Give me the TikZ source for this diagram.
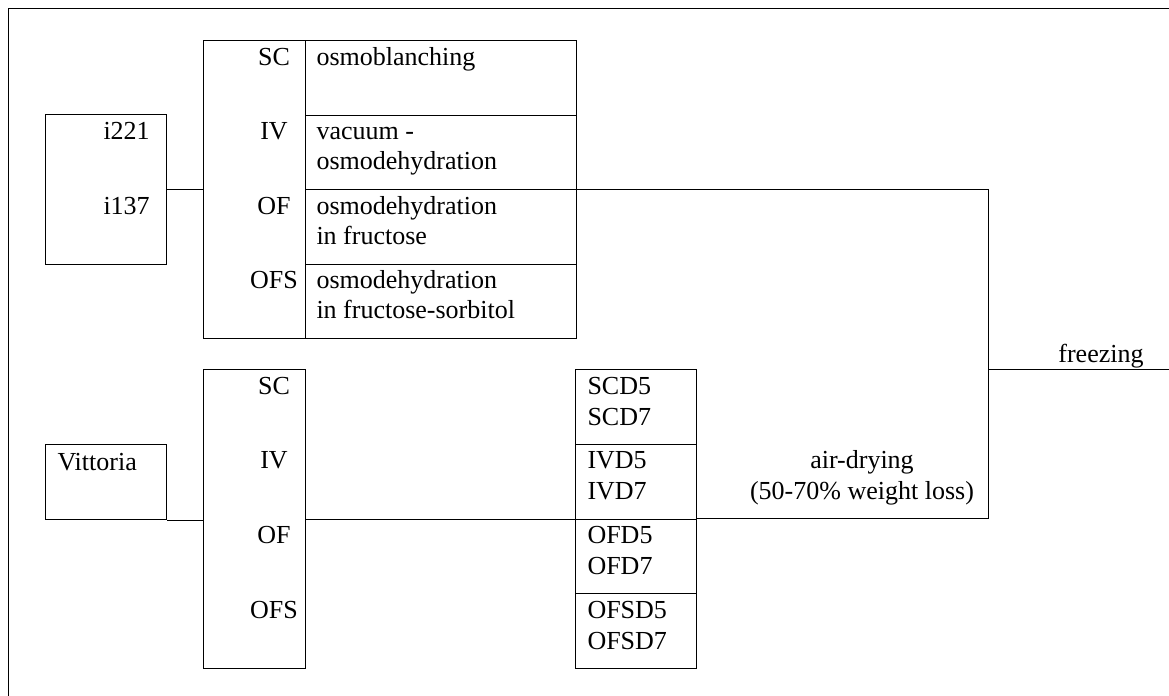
\documentclass[tikz,border=0pt]{standalone}
\usepackage{fontspec}
\setmainfont{Liberation Serif}
\usetikzlibrary{positioning}

\begin{document}
\begin{tikzpicture}[x=0.5pt, y=-0.5pt, line width=0.5pt,
    box/.style={draw, inner sep=0pt, anchor=north west},
    txt/.style={inner sep=0pt, anchor=base west, font=\fontsize{13}{15}\selectfont},
    tag/.style={inner sep=0pt, anchor=base, font=\fontsize{13}{15}\selectfont}]
    \useasboundingbox (0,0) rectangle (1169,696);

    % --- cornice ---
    \draw (8,696) -- (8,8) -- (1169,8);

    % --- cultivar i221 / i137 ---
    \node[box, minimum width=60.5pt, minimum height=75pt] (cv) at (45,114) {};
    \node[txt] (i221) at (103,139) {i221};
    \node[txt] (i137) at (103,214) {i137};

    % tabella dei pretrattamenti (in alto)
    \node[box, minimum width=51pt, minimum height=149pt] (pt) at (203,40) {};
    \foreach \code/\one/\two [count=\i from 0] in {SC/osmoblanching/,
        IV/vacuum -/osmodehydration, OF/osmodehydration/in fructose,
        OFS/osmodehydration/in fructose-sorbitol} {
        \node[box, minimum width=135.5pt, minimum height=37.25pt] (cell\i) at (305,40+74.5*\i) {};
        \node[tag] (code\i) at (274,65+74.5*\i) {\code};
        \node[txt] (desc\i) at (316,65+74.5*\i) {\one};
        \node[txt] (more\i) at (316,95+74.5*\i) {\two};
    }

    % --- cultivar Vittoria ---
    \node[box, minimum width=60.5pt, minimum height=37.5pt] (vit) at (45,444) {};
    \node[txt] (vitname) at (57,470) {Vittoria};

    % pretrattamenti ed essiccamento (in basso)
    \node[box, minimum width=51pt, minimum height=149.5pt] (ptv) at (203,369) {};
    \foreach \code [count=\i from 0] in {SC, IV, OF, OFS} {
        \node[tag] (codev\i) at (274,394+74.75*\i) {\code};
        \node[box, minimum width=60.5pt, minimum height=37.375pt] (dry\i) at (575,369+74.75*\i) {};
        \node[txt] (dfive\i) at (587,394+74.75*\i) {\code D5};
        \node[txt] (dseven\i) at (587,425+74.75*\i) {\code D7};
    }

    % punti di svolta dei collegamenti
    \coordinate (bend) at (988,0);
    \coordinate (frz) at (1169,369);

    % collegamenti
    \draw (cv.east) -- (cv.east -| pt.west);
    \draw (vit.south east) -- (vit.south east -| ptv.west);
    \draw (ptv.east) -- (ptv.east -| dry2.west);
    \draw (cell2.north east) -- (cell2.north east -| bend)
        -- (bend |- dry2.north east) -- (dry2.north east);
    \draw (frz -| bend) -- (frz);

    % etichette
    \node[tag] (air) at (862,468) {air-drying};
    \node[tag] (loss) at (862,499) {(50-70\% weight loss)};
    \node[tag] (freezing) at (1101,362) {freezing};
\end{tikzpicture}
\end{document}
